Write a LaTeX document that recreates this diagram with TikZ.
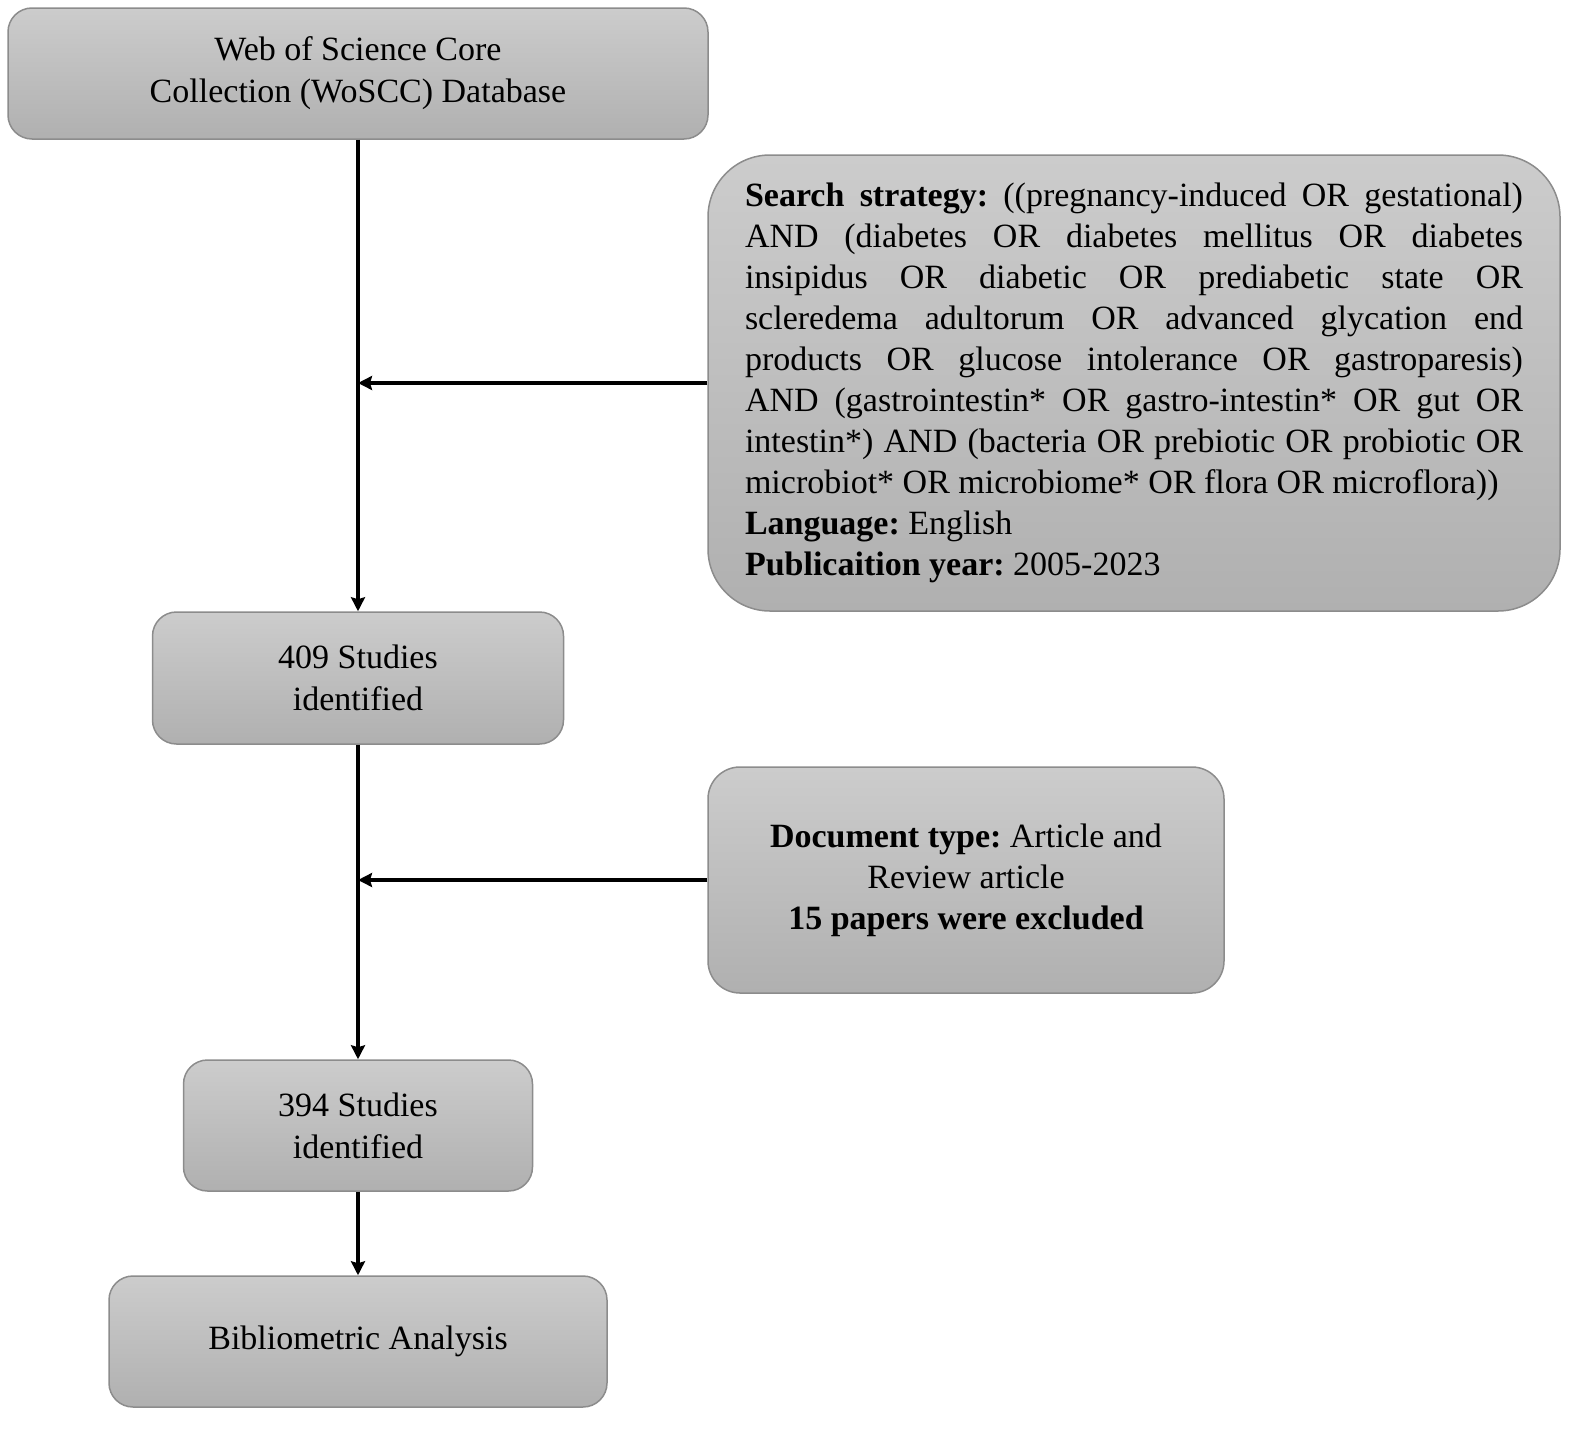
\documentclass[tikz,border=0pt]{standalone}
\usepackage{fontspec}
\setmainfont{Liberation Serif}
\usetikzlibrary{arrows.meta}
\frenchspacing

\definecolor{boxtop}{RGB}{204,204,204}
\definecolor{boxbottom}{RGB}{176,176,176}
\definecolor{boxline}{RGB}{140,140,140}

\tikzset{
  flowbox/.style={draw=boxline, line width=1.5pt, rounded corners=24pt,
    top color=boxtop, bottom color=boxbottom, align=center, inner sep=0pt,
    font=\fontsize{34}{42}\selectfont},
  flowarrow/.style={line width=3.5pt, -{Stealth[length=14pt, width=14pt, inset=2pt]}}
}

\begin{document}
\begin{tikzpicture}[x=1pt, y=1pt]
    \useasboundingbox (0,0) rectangle (1595,-1440);

    % Main column
    \node[flowbox, minimum width=700pt, minimum height=131pt] (wos) at (358,-73.5)
        {Web of Science Core\\Collection (WoSCC) Database};
    \node[flowbox, minimum width=411pt, minimum height=132pt] (s409) at (358,-678)
        {409 Studies\\identified};
    \node[flowbox, minimum width=349pt, minimum height=131pt] (s394) at (358,-1125.5)
        {394 Studies\\identified};
    \node[flowbox, minimum width=498pt, minimum height=131pt] (biblio) at (358,-1341.5)
        {Bibliometric Analysis};

    % Filters on the right
    \node[flowbox, rounded corners=62pt, minimum width=852pt, minimum height=456pt,
        text width=778pt, align=justify, font=\fontsize{34}{41}\selectfont] (search) at (1134,-383)
        {\tolerance=10000 \hyphenpenalty=10000 \exhyphenpenalty=10000
        \textbf{Search strategy:} ((pregnancy-induced OR gestational)\linebreak
        AND (diabetes OR diabetes mellitus OR diabetes\linebreak
        insipidus OR diabetic OR prediabetic state OR\linebreak
        scleredema adultorum OR advanced glycation end\linebreak
        products OR glucose intolerance OR gastroparesis)\linebreak
        AND (gastrointestin* OR gastro-intestin* OR gut OR\linebreak
        intestin*) AND (bacteria OR prebiotic OR probiotic OR\linebreak
        microbiot* OR microbiome* OR flora OR microflora))\\
        \textbf{Language:} English\\
        \textbf{Publicaition year:} 2005-2023};
    \node[flowbox, rounded corners=32pt, minimum width=516pt, minimum height=226pt,
        font=\fontsize{34}{41}\selectfont] (doctype) at (966,-880)
        {\textbf{Document type:} Article and\\Review article\\\textbf{15 papers were excluded}};

    % Junctions on the main line
    \coordinate (m1) at (358,-383);
    \coordinate (m2) at (358,-880);

    % Arrows
    \draw[flowarrow] (wos.south) -- (s409.north);
    \draw[flowarrow] (s409.south) -- (s394.north);
    \draw[flowarrow] (s394.south) -- (biblio.north);
    \draw[flowarrow] (search.west) -- (m1);
    \draw[flowarrow] (doctype.west) -- (m2);
\end{tikzpicture}
\end{document}
